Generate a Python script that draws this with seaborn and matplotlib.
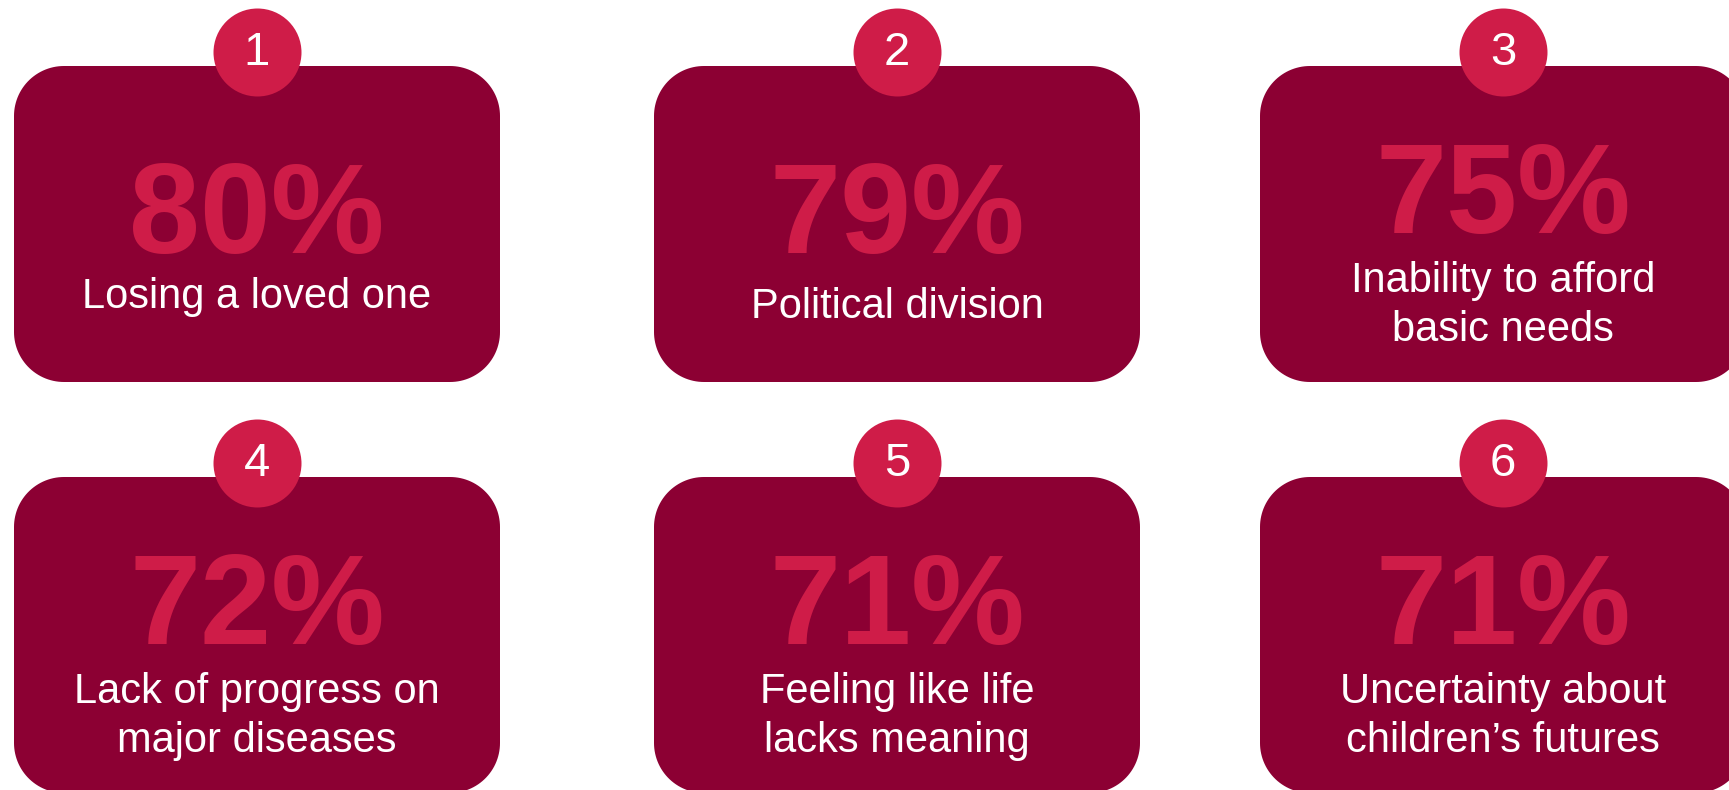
import matplotlib
matplotlib.use("Agg")
import numpy as np
import matplotlib.pyplot as plt
from matplotlib.patches import Polygon
import seaborn as sns
import pandas as pd

# data
ranks = [1, 2, 3, 4, 5, 6]
values = [80, 79, 75, 72, 71, 71]
labels = [
    "Losing a loved one",
    "Political division",
    "Inability to afford\nbasic needs",
    "Lack of progress on\nmajor diseases",
    "Feeling like life\nlacks meaning",
    "Uncertainty about\nchildren\u2019s futures",
]

# colours
box_color = "#8C0033"
accent = "#CF1C48"

plt.rcParams["font.family"] = ["Liberation Sans", "DejaVu Sans"]

# layout (pixel space, y going down)
col_x = [257, 897, 1503]
row_top = [66, 477]
box_w, box_h, rad = 486, 316, 50


def rounded_box(x0, y0, w, h, r):
    # corners as real circular arcs
    pts = []
    corners = [(x0 + w - r, y0 + r, -90, 0), (x0 + w - r, y0 + h - r, 0, 90),
               (x0 + r, y0 + h - r, 90, 180), (x0 + r, y0 + r, 180, 270)]
    for cx, cy, a0, a1 in corners:
        t = np.radians(np.linspace(a0, a1, 30))
        pts += list(zip(cx + r * np.cos(t), cy + r * np.sin(t)))
    return pts


df = pd.DataFrame({"rank": ranks, "value": values, "label": labels})
df["cx"] = [col_x[i % 3] for i in range(len(df))]
df["top"] = [row_top[i // 3] for i in range(len(df))]
df["badge_y"] = df["top"] - 14

fig = plt.figure(figsize=(17.29, 7.9), dpi=100)
ax = fig.add_axes([0, 0, 1, 1])

# cards
for _, r in df.iterrows():
    ax.add_patch(Polygon(rounded_box(r.cx - box_w / 2, r.top, box_w, box_h, rad),
                         closed=True, facecolor=box_color, edgecolor="none", zorder=1))

# rank badges
sns.scatterplot(data=df, x="cx", y="badge_y", s=4014, color=accent,
                linewidth=0, legend=False, ax=ax, zorder=3)
ax.set_xlim(0, 1729)
ax.set_ylim(790, 0)
ax.axis("off")

for i, r in df.iterrows():
    ax.text(r.cx, r.badge_y + 1, str(r["rank"]), color="white", fontsize=34,
            ha="center", va="center", zorder=4)
    lines = r.label.split("\n")
    num_dy = 187 if len(lines) == 1 else 167
    ax.text(r.cx, r.top + num_dy, f"{r.value}%", color=accent, fontsize=92,
            fontweight="bold", ha="center", va="baseline", zorder=4)
    if len(lines) == 1:
        first = 242 if i == 0 else 252
    else:
        first = 226
    for k, line in enumerate(lines):
        ax.text(r.cx, r.top + first + k * 49, line, color="white", fontsize=30,
                ha="center", va="baseline", zorder=4)

plt.savefig("out.png", dpi=100)
